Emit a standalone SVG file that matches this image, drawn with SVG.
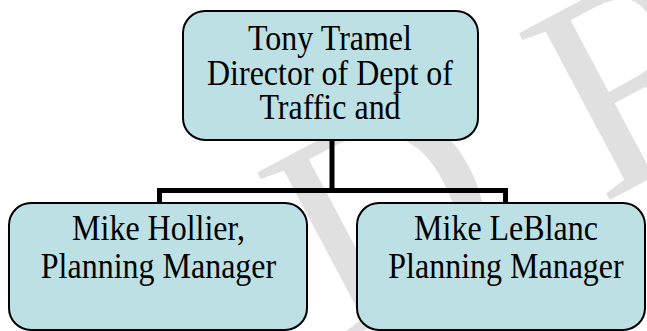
<svg xmlns="http://www.w3.org/2000/svg" width="647" height="331" viewBox="0 0 647 331">
  <style>
    .box { fill: #bce0e3; stroke: #000; stroke-width: 2; }
    .lbl { font-family: "Liberation Serif", "Times New Roman", serif; font-size: 35px; fill: #000; text-anchor: middle; }
    .conn { fill: none; stroke: #000; stroke-width: 5; stroke-linecap: butt; stroke-linejoin: miter; }
    .wm { font-family: "Liberation Serif", "Times New Roman", serif; font-size: 290px; fill: #e0e0e0; letter-spacing: 87px; }
  </style>
  <rect width="647" height="331" fill="#fff"/>
  <g id="watermark">
    <text class="wm" transform="translate(339,344) rotate(-28)">DRAFT</text>
  </g>
  <g id="connectors">
    <path class="conn" d="M332,140 V190.5 M159.5,203 V190.5 H505.5 V203"/>
  </g>
  <g id="node-tony">
    <rect class="box" x="183" y="11" width="295" height="129" rx="22" ry="22"/>
    <text class="lbl" transform="translate(330,50) scale(0.914,1)">Tony Tramel</text>
    <text class="lbl" transform="translate(330,85) scale(0.914,1)">Director of Dept of</text>
    <text class="lbl" transform="translate(330,119) scale(0.914,1)">Traffic and</text>
  </g>
  <g id="node-hollier">
    <rect class="box" x="9" y="203" width="298" height="127" rx="22" ry="22"/>
    <text class="lbl" transform="translate(158.5,240) scale(0.914,1)">Mike Hollier,</text>
    <text class="lbl" transform="translate(158.5,278) scale(0.914,1)">Planning Manager</text>
  </g>
  <g id="node-leblanc">
    <rect class="box" x="357" y="203" width="288" height="127" rx="22" ry="22"/>
    <text class="lbl" transform="translate(506,240) scale(0.914,1)">Mike LeBlanc</text>
    <text class="lbl" transform="translate(506,278) scale(0.914,1)">Planning Manager</text>
  </g>
</svg>
